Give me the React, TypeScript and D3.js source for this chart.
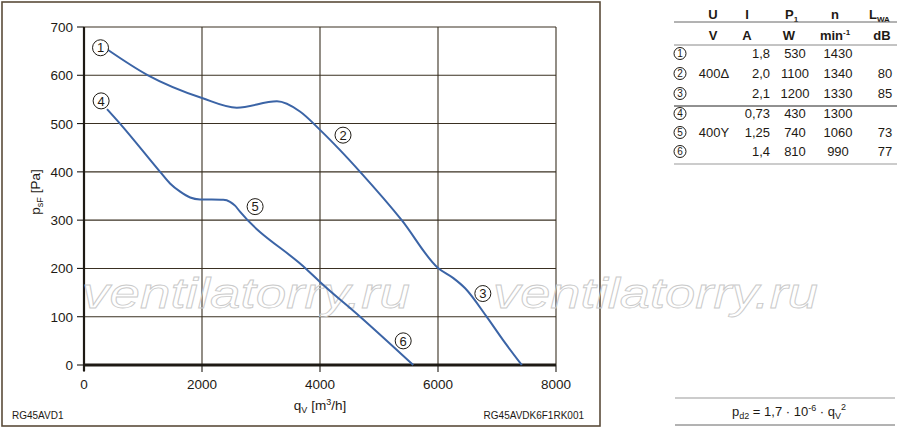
import * as d3 from 'd3'

// upper curve: operating points 1 -> 2 -> 3 (400 V delta)
const curveDelta: [number, number][] = [
  [390, 654], [1085, 600], [2000, 553], [2590, 533], [3270, 546], [3660, 525],
  [4000, 487], [4340, 445], [4680, 400], [5385, 300], [6000, 201], [6260, 180],
  [6460, 159], [6830, 99], [7100, 52], [7420, 0],
]
// lower curve: operating points 4 -> 5 -> 6 (400 V star)
const curveStar: [number, number][] = [
  [390, 530], [610, 500], [1290, 400], [1458, 376], [1630, 359], [1800, 347],
  [1966, 343], [2360, 342], [2475, 338], [2560, 330], [2640, 318],
  [3775, 198], [4000, 172], [4680, 100], [5580, 0],
]

const xTicks = [0, 2000, 4000, 6000, 8000]
const yTicks = [0, 100, 200, 300, 400, 500, 600, 700]

// label marks on the curves, in data units
const curveLabels: { n: string; q: number; p: number }[] = [
  { n: '1', q: 280, p: 657 },
  { n: '4', q: 290, p: 547 },
  { n: '2', q: 4390, p: 476 },
  { n: '5', q: 2900, p: 328 },
  { n: '6', q: 5410, p: 50 },
  { n: '3', q: 6760, p: 148 },
]

const tableRows = [
  { n: '1', u: '', i: '1,8', p: '530', rpm: '1430', l: '' },
  { n: '2', u: '400Δ', i: '2,0', p: '1100', rpm: '1340', l: '80' },
  { n: '3', u: '', i: '2,1', p: '1200', rpm: '1330', l: '85' },
  { n: '4', u: '', i: '0,73', p: '430', rpm: '1300', l: '' },
  { n: '5', u: '400Y', i: '1,25', p: '740', rpm: '1060', l: '73' },
  { n: '6', u: '', i: '1,4', p: '810', rpm: '990', l: '77' },
]

const FONT = '"Liberation Sans", Arial, Helvetica, sans-serif'
const INK = '#1e1a14'
const GRID = '#3a3022'
const BLUE = '#3b64a6'

const x = d3.scaleLinear().domain([0, 8000]).range([84, 556])
const y = d3.scaleLinear().domain([0, 700]).range([365, 27])

const line = d3
  .line<[number, number]>()
  .x(d => x(d[0]))
  .y(d => y(d[1]))
  .curve(d3.curveMonotoneX)

function Circled({ cx, cy, r, n, size }: { cx: number; cy: number; r: number; n: string; size: number }) {
  return (
    <g>
      <circle cx={cx} cy={cy} r={r} fill="#fff" stroke={INK} strokeWidth={1} />
      <text x={cx} y={cy + size * 0.36} textAnchor="middle" fontSize={size} fill={INK}>
        {n}
      </text>
    </g>
  )
}

function Watermark({ x0, width }: { x0: number; width: number }) {
  return (
    <text
      x={x0}
      y={308}
      fontSize={42}
      fontStyle="italic"
      textLength={width}
      lengthAdjust="spacingAndGlyphs"
      fill="none"
      stroke="#cacaca"
      strokeWidth={0.8}
    >
      ventilatorry.ru
    </text>
  )
}

export default function App() {
  const rowY = [58, 78, 98, 118, 137, 156]

  return (
    <div style={{ position: 'fixed', left: 0, top: 0 }}>
      <svg width={900} height={429} fontFamily={FONT} style={{ display: 'block', background: '#fff' }}>
        {/* outer frame */}
        <rect x={2} y={2} width={598} height={424} fill="none" stroke="#5a4c3a" strokeWidth={1.6} />

        {/* grid */}
        {yTicks.filter(t => t > 0).map(t => (
          <line key={`gy${t}`} x1={x(0)} x2={x(8000)} y1={y(t)} y2={y(t)} stroke={GRID} strokeWidth={1.1} />
        ))}
        {xTicks.filter(t => t > 0).map(t => (
          <line key={`gx${t}`} x1={x(t)} x2={x(t)} y1={y(0)} y2={y(700)} stroke={GRID} strokeWidth={1.1} />
        ))}

        {/* axes */}
        <line x1={x(0)} x2={x(0)} y1={y(0) + 6} y2={y(700)} stroke={INK} strokeWidth={2.2} />
        <line x1={x(0) - 1} x2={x(8000)} y1={y(0)} y2={y(0)} stroke={INK} strokeWidth={2.8} />
        {yTicks.map(t => (
          <g key={`ty${t}`}>
            <line x1={x(0) - 7} x2={x(0)} y1={y(t)} y2={y(t)} stroke={INK} strokeWidth={1.1} />
            <text x={x(0) - 11} y={y(t) + 5} textAnchor="end" fontSize={13.5} fill={INK}>
              {t}
            </text>
          </g>
        ))}
        {xTicks.map(t => (
          <g key={`tx${t}`}>
            <line x1={x(t)} x2={x(t)} y1={y(0)} y2={y(0) + 7} stroke={INK} strokeWidth={1.1} />
            <text x={x(t)} y={389} textAnchor="middle" fontSize={13.5} fill={INK}>
              {t}
            </text>
          </g>
        ))}

        {/* axis titles */}
        <text x={x(4000)} y={410} textAnchor="middle" fontSize={13.5} fill={INK}>
          q<tspan fontSize={9} dy={3}>V</tspan>
          <tspan dy={-3}> [m</tspan>
          <tspan fontSize={9} dy={-5}>3</tspan>
          <tspan dy={5}>/h]</tspan>
        </text>
        <text transform="translate(40,192) rotate(-90)" textAnchor="middle" fontSize={13.5} fill={INK}>
          p<tspan fontSize={9} dy={3}>sF</tspan>
          <tspan dy={-3}> [Pa]</tspan>
        </text>
        <text x={12} y={419} fontSize={10} fill={INK}>RG45AVD1</text>
        <text x={584} y={419} textAnchor="end" fontSize={10} fill={INK}>RG45AVDK6F1RK001</text>

        {/* watermark */}
        <Watermark x0={82} width={328} />
        <Watermark x0={493} width={325} />

        {/* curves */}
        <path d={line(curveDelta) ?? ''} fill="none" stroke={BLUE} strokeWidth={2} />
        <path d={line(curveStar) ?? ''} fill="none" stroke={BLUE} strokeWidth={2} />
        {curveLabels.map(c => (
          <Circled key={c.n} cx={x(c.q)} cy={y(c.p)} r={8} n={c.n} size={13} />
        ))}

        {/* table */}
        <g fontSize={13} fill={INK}>
          <g fontWeight="bold">
            <text x={713} y={19} textAnchor="middle">U</text>
            <text x={747} y={19} textAnchor="middle">I</text>
            <text x={785} y={19}>
              P<tspan fontSize={8} dy={3}>1</tspan>
            </text>
            <text x={835} y={19} textAnchor="middle">n</text>
            <text x={869} y={19}>
              L<tspan fontSize={8} dy={3}>WA</tspan>
            </text>
            <text x={713} y={40} textAnchor="middle">V</text>
            <text x={747} y={40} textAnchor="middle">A</text>
            <text x={789} y={40} textAnchor="middle">W</text>
            <text x={835} y={40} textAnchor="middle">
              min<tspan fontSize={8} dy={-5}>-1</tspan>
            </text>
            <text x={882} y={40} textAnchor="middle">dB</text>
          </g>
          <line x1={674} x2={897} y1={22} y2={22} stroke="#666" strokeWidth={1} />
          <line x1={674} x2={897} y1={45} y2={45} stroke="#888" strokeWidth={1} />
          <line x1={674} x2={897} y1={106} y2={106} stroke="#222" strokeWidth={1} />
          <line x1={674} x2={897} y1={164} y2={164} stroke="#999" strokeWidth={1} />
          {tableRows.map((r, k) => (
            <g key={r.n}>
              <Circled cx={680} cy={rowY[k] - 4.5} r={6} n={r.n} size={10} />
              <text x={714} y={rowY[k]} textAnchor="middle">{r.u}</text>
              <text x={770} y={rowY[k]} textAnchor="end">{r.i}</text>
              <text x={795} y={rowY[k]} textAnchor="middle">{r.p}</text>
              <text x={838} y={rowY[k]} textAnchor="middle">{r.rpm}</text>
              <text x={885} y={rowY[k]} textAnchor="middle">{r.l}</text>
            </g>
          ))}
        </g>

        {/* dynamic pressure formula */}
        <line x1={675} x2={895} y1={398} y2={398} stroke="#999" strokeWidth={1} />
        <line x1={675} x2={895} y1={425} y2={425} stroke="#666" strokeWidth={1} />
        <text x={789} y={416} textAnchor="middle" fontSize={13} fill={INK}>
          p<tspan fontSize={9} dy={3}>d2</tspan>
          <tspan dy={-3}> = 1,7 · 10</tspan>
          <tspan fontSize={9} dy={-5}>-6</tspan>
          <tspan dy={5}> · q</tspan>
          <tspan fontSize={9} dy={3}>V</tspan>
          <tspan fontSize={9} dy={-9}>2</tspan>
        </text>
      </svg>
    </div>
  )
}
